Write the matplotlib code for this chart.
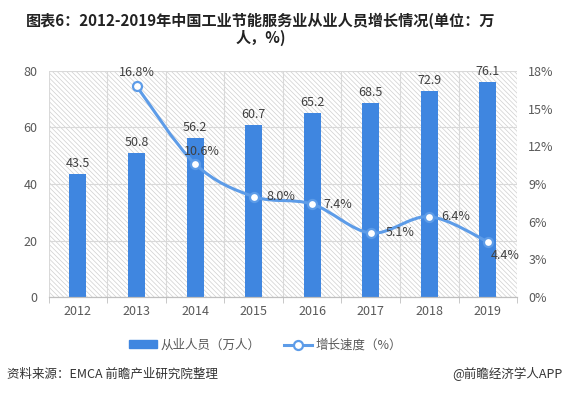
import matplotlib
matplotlib.use("Agg")
import matplotlib.pyplot as plt
from matplotlib.path import Path
from matplotlib.patches import PathPatch, Rectangle
from matplotlib.lines import Line2D
import numpy as np

plt.rcParams['font.family'] = ['Noto Sans CJK SC', 'DejaVu Sans']
plt.rcParams['hatch.linewidth'] = 0.5
plt.rcParams['hatch.color'] = '#cfcfcf'

years = ['2012', '2013', '2014', '2015', '2016', '2017', '2018', '2019']
employees = [43.5, 50.8, 56.2, 60.7, 65.2, 68.5, 72.9, 76.1]
growth_years = ['2013', '2014', '2015', '2016', '2017', '2018', '2019']
growth = [16.8, 10.6, 8.0, 7.4, 5.1, 6.4, 4.4]
left_ticks = [0, 20, 40, 60, 80]
right_ticks = [0, 3, 6, 9, 12, 15, 18]

bar_color = '#3f86e0'
line_color = '#5d9ce8'
text_color = '#404040'
tick_color = '#595959'

fig = plt.figure(figsize=(5.65, 3.94), dpi=100)
ax = fig.add_axes([0.0862, 0.246, 0.829, 0.574])
ax2 = ax.twinx()

x = np.arange(len(years))
ax.set_xlim(-0.5, len(years) - 0.5)
ax.set_ylim(0, 80)
ax2.set_ylim(0, 18)

# hatched background
ax.add_patch(Rectangle((0, 0), 1, 1, transform=ax.transAxes, facecolor='white',
                       edgecolor='#cfcfcf', hatch='\\' * 7, linewidth=0, zorder=0))

# grid
for yv in left_ticks:
    ax.axhline(yv, color='#d9d9d9', lw=0.8, zorder=0.5)
for xv in np.arange(-0.5, len(years), 1.0):
    ax.axvline(xv, color='#d9d9d9', lw=0.8, zorder=0.5)

bars = ax.bar(x, employees, width=0.29, color=bar_color, zorder=2)
for xi, v in zip(x, employees):
    ax.text(xi, v + 1.5, f'{v:.1f}', ha='center', va='bottom', fontsize=9, color=text_color, zorder=5)

# smooth growth line
gx = np.array([years.index(y) for y in growth_years], dtype=float)
gy = np.array(growth, dtype=float)
pts = np.column_stack([gx, gy])
verts = [pts[0]]
codes = [Path.MOVETO]
n = len(pts)
for i in range(n - 1):
    p0 = pts[i - 1] if i > 0 else pts[i]
    p1 = pts[i]
    p2 = pts[i + 1]
    p3 = pts[i + 2] if i + 2 < n else pts[i + 1]
    c1 = p1 + (p2 - p0) / 6.0
    c2 = p2 - (p3 - p1) / 6.0
    verts += [c1, c2, p2]
    codes += [Path.CURVE4] * 3
ax2.add_patch(PathPatch(Path(verts, codes), facecolor='none', edgecolor=line_color, lw=2.2, zorder=3))
ax2.plot(gx, gy, linestyle='none', marker='o', markersize=6.5, markerfacecolor='white',
         markeredgecolor=line_color, markeredgewidth=1.6, zorder=4)

offsets = {
    '2013': (0, 0.55, 'center', 'bottom'),
    '2014': (0.12, 0.45, 'center', 'bottom'),
    '2015': (0.22, 0.0, 'left', 'center'),
    '2016': (0.2, 0.0, 'left', 'center'),
    '2017': (0.25, 0.0, 'left', 'center'),
    '2018': (0.2, 0.0, 'left', 'center'),
    '2019': (0.05, -0.55, 'left', 'top'),
}
for yr, v in zip(growth_years, growth):
    dx, dy, ha, va = offsets[yr]
    ax2.text(years.index(yr) + dx, v + dy, f'{v:.1f}%', ha=ha, va=va, fontsize=9,
             color=text_color, zorder=6)

ax.set_xticks(x)
ax.set_xticklabels(years)
ax.set_xticks(np.arange(-0.5, len(years), 1.0), minor=True)
ax.tick_params(axis='x', which='major', length=0, pad=6, labelsize=9, labelcolor=tick_color)
ax.tick_params(axis='x', which='minor', length=4, color='#bfbfbf')
ax.set_yticks(left_ticks)
ax.tick_params(axis='y', length=0, labelsize=9, labelcolor=tick_color, pad=8)
ax2.set_yticks(right_ticks)
ax2.set_yticklabels([f'{t}%' for t in right_ticks])
ax2.tick_params(axis='y', length=0, labelsize=9, labelcolor=tick_color, pad=8)
for a in (ax, ax2):
    for s in ['top', 'left', 'right']:
        a.spines[s].set_visible(False)
    a.spines['bottom'].set_color('#bfbfbf')
ax.set_zorder(1)
ax2.set_zorder(2)
ax.patch.set_visible(False)
ax2.patch.set_visible(False)

fig.text(0.462, 0.946, '图表6：2012-2019年中国工业节能服务业从业人员增长情况(单位：万', ha='center', va='center',
         fontsize=10.9, fontweight='bold', color='#222222')
fig.text(0.462, 0.903, '人，%)', ha='center', va='center', fontsize=10.9, fontweight='bold', color='#222222')

handles = [Rectangle((0, 0), 1, 1, color=bar_color),
           Line2D([0], [0], color=line_color, lw=2.2, marker='o', markersize=6.5,
                  markerfacecolor='white', markeredgecolor=line_color, markeredgewidth=1.6)]
leg = fig.legend(handles, ['从业人员（万人）', '增长速度（%）'], loc='center', bbox_to_anchor=(0.47, 0.124),
                 ncol=2, frameon=False, fontsize=9, handlelength=2.2, handleheight=0.55,
                 columnspacing=1.9, handletextpad=0.3)
for t in leg.get_texts():
    t.set_color(tick_color)

fig.text(0.012, 0.05, '资料来源：EMCA 前瞻产业研究院整理', ha='left', va='center', fontsize=9, color='#333333')
fig.text(0.995, 0.05, '@前瞻经济学人APP', ha='right', va='center', fontsize=9, color='#333333')

fig.savefig('out.png', dpi=100)
